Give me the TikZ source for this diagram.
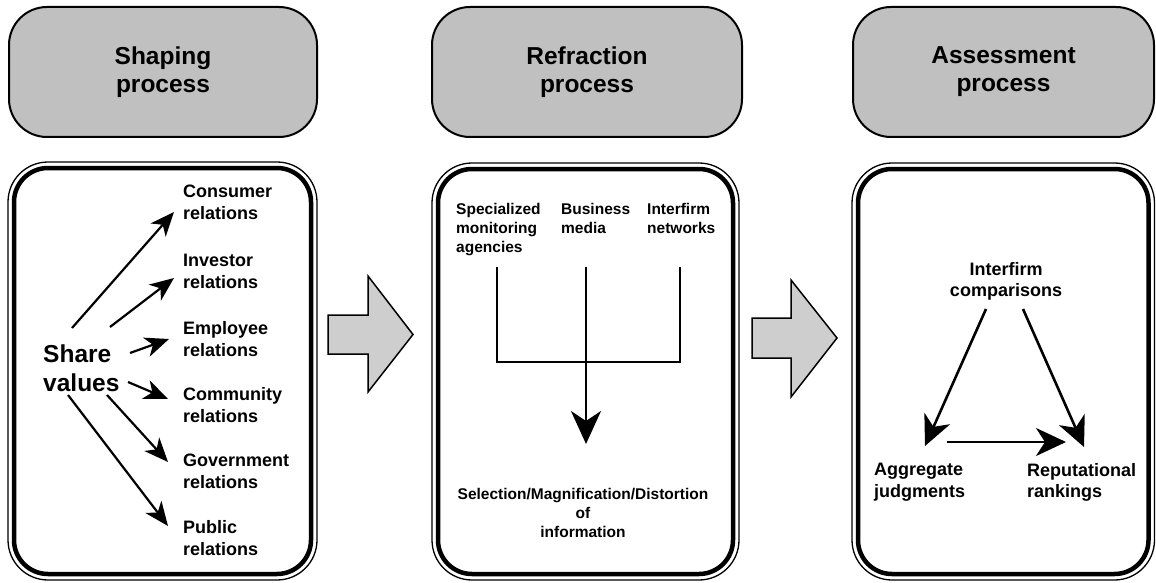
\documentclass[tikz,border=0pt]{standalone}
\usepackage{fontspec}
\setmainfont{Liberation Sans}
\usetikzlibrary{arrows.meta}
\definecolor{headfill}{RGB}{192,192,192}
\definecolor{flowfill}{RGB}{206,206,206}
\begin{document}
\begin{tikzpicture}[x=1pt,y=-1pt,
  headbox/.style={draw, line width=2pt, fill=headfill, rounded corners=38pt,
    minimum height=130pt, align=center, inner sep=0pt,
    font=\bfseries\fontsize{24.5}{28}\selectfont},
  frameout/.style={line width=1.3pt, rounded corners=40pt},
  framein/.style={line width=4.5pt, rounded corners=34pt},
  bigarrow/.style={draw, line width=1.5pt, fill=flowfill, line join=miter},
  lblA/.style={anchor=north west, inner sep=0pt, align=left,
    font=\bfseries\fontsize{18}{22}\selectfont},
  lblB/.style={inner sep=0pt, font=\bfseries\fontsize{15.5}{19}\selectfont},
  lblC/.style={inner sep=0pt, font=\bfseries\fontsize{18}{21.5}\selectfont},
  arrA/.style={line width=2.2pt, -{Stealth[length=24pt,width=20pt,inset=7pt]}},
  arrB/.style={line width=2.5pt, -{Stealth[length=33pt,width=30pt,inset=10pt]}},
  arrC/.style={line width=2.6pt, -{Stealth[length=30pt,width=28pt,inset=9pt]}},
  linkB/.style={line width=2.5pt}
]
\useasboundingbox (0,0) rectangle (1156,583);

% process headings
\node[headbox, minimum width=308pt] (hShape) at (163,72) {Shaping\\process};
\node[headbox, minimum width=310pt] (hRefr)  at (587,72) {Refraction\\process};
\node[headbox, minimum width=301pt] (hAssess) at (1003.5,72) {Assessment\\process};

% double-lined panels
\draw[frameout] (8,162) rectangle (317,580);
\draw[framein]  (14,168) rectangle (311,574);
\draw[frameout] (432,163) rectangle (739,580);
\draw[framein]  (438,169) rectangle (733,574);
\draw[frameout] (852,163) rectangle (1154.5,580);
\draw[framein]  (858,169) rectangle (1148.5,574);

% block arrows between panels
\draw[bigarrow] (328,315) -- (368,315) -- (368,276) -- (413,334.5)
  -- (368,392) -- (368,354) -- (328,354) -- cycle;
\draw[bigarrow] (752,318) -- (791,318) -- (791,280) -- (837,338)
  -- (791,397) -- (791,358) -- (752,358) -- cycle;

% shaping panel
\node[anchor=north west, inner sep=0pt, align=left,
  font=\bfseries\fontsize{24.5}{29}\selectfont] (sv) at (43,345) {Share\\values};
\node[lblA] (cons) at (183,185) {Consumer\\relations};
\node[lblA] (inv)  at (183,254) {Investor\\relations};
\node[lblA] (emp)  at (183,321) {Employee\\relations};
\node[lblA] (comm) at (183,387) {Community\\relations};
\node[lblA] (gov)  at (183,454) {Government\\relations};
\node[lblA] (pub)  at (183,520) {Public\\relations};

\coordinate (svCons) at (72,328);   \coordinate (consIn) at (174,212);
\coordinate (svInv)  at (110,327);  \coordinate (invIn)  at (174,278);
\coordinate (svEmp)  at (130,353);  \coordinate (empIn)  at (169,339);
\coordinate (svComm) at (128,382);  \coordinate (commIn) at (168,399);
\coordinate (svGov)  at (107,395);  \coordinate (govIn)  at (168,462);
\coordinate (svPub)  at (68,395);   \coordinate (pubIn)  at (168,526);
\draw[arrA] (svCons) -- (consIn);
\draw[arrA] (svInv)  -- (invIn);
\draw[arrA] (svEmp)  -- (empIn);
\draw[arrA] (svComm) -- (commIn);
\draw[arrA] (svGov)  -- (govIn);
\draw[arrA] (svPub)  -- (pubIn);

% refraction panel
\node[lblB, anchor=north west, align=left] (spec) at (456,203) {Specialized\\monitoring\\agencies};
\node[lblB, anchor=north west, align=left] (bus)  at (561,203) {Business\\media};
\node[lblB, anchor=north west, align=left] (net)  at (647,203) {Interfirm\\networks};
\node[lblB, anchor=north, align=center] (sel) at (583,488)
  {Selection/Magnification/Distortion\\of\\information};

\coordinate (specOut) at (497,267); \coordinate (specJoin) at (497,362);
\coordinate (busOut)  at (586,267); \coordinate (selIn)    at (586,444);
\coordinate (netOut)  at (680,267); \coordinate (netJoin)  at (680,362);
\draw[linkB, line join=miter] (specOut) -- (specJoin) -- (netJoin) -- (netOut);
\draw[arrB] (busOut) -- (selIn);

% assessment panel
\node[lblC, anchor=north, align=center] (cmp) at (1006,262) {Interfirm\\comparisons};
\node[lblC, anchor=north west, align=left] (agg) at (874,463) {Aggregate\\judgments};
\node[lblC, anchor=north west, align=left] (rep) at (1027,463) {Reputational\\rankings};

\coordinate (cmpL) at (986,309);  \coordinate (aggIn) at (925,446);
\coordinate (cmpR) at (1023,309); \coordinate (repIn) at (1084,447);
\coordinate (aggOut) at (947,442); \coordinate (repSide) at (1066,442);
\draw[arrC] (cmpL) -- (aggIn);
\draw[arrC] (cmpR) -- (repIn);
\draw[arrC] (aggOut) -- (repSide);
\end{tikzpicture}
\end{document}
